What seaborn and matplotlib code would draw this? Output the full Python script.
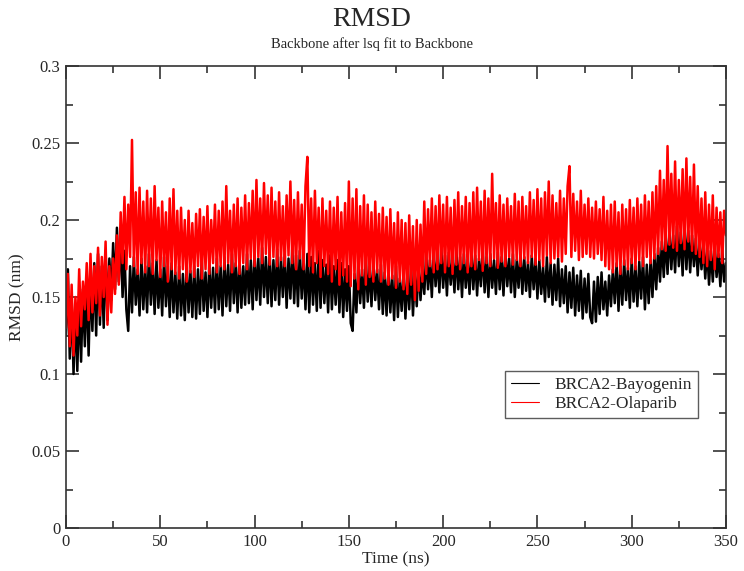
import numpy as np
import pandas as pd
import seaborn as sns
import matplotlib
matplotlib.use('Agg')
import matplotlib.pyplot as plt
from matplotlib.ticker import MultipleLocator

# RMSD traces, one value per ns, in 1e-3 nm
rmsd_bayogenin = [
    125, 168, 110, 150, 100, 142, 102, 148, 108, 155,
    118, 160, 112, 165, 128, 172, 125, 178, 132, 170,
    130, 180, 135, 175, 148, 185, 155, 195, 160, 190,
    150, 180, 142, 128, 170, 140, 176, 145, 168, 138,
    175, 142, 170, 140, 178, 145, 172, 139, 174, 143,
    168, 138, 176, 144, 170, 137, 172, 140, 166, 136,
    170, 138, 165, 135, 172, 140, 167, 137, 170, 136,
    168, 139, 174, 141, 166, 137, 172, 143, 169, 140,
    175, 142, 170, 138, 176, 144, 171, 141, 178, 146,
    172, 140, 176, 143, 170, 145, 178, 146, 174, 142,
    180, 148, 175, 145, 182, 150, 176, 146, 179, 144,
    174, 148, 181, 145, 176, 150, 178, 143, 175, 149,
    182, 146, 177, 144, 180, 149, 175, 142, 178, 140,
    176, 145, 172, 141, 180, 143, 174, 146, 171, 140,
    177, 142, 170, 145, 174, 140, 172, 137, 168, 141,
    170, 133, 128, 165, 140, 172, 146, 168, 143, 175,
    147, 170, 144, 173, 148, 168, 142, 171, 139, 166,
    138, 168, 140, 164, 135, 170, 137, 162, 141, 167,
    136, 165, 142, 170, 138, 166, 144, 172, 148, 168,
    152, 178, 155, 174, 150, 180, 157, 176, 153, 182,
    156, 177, 151, 179, 158, 175, 153, 181, 155, 176,
    150, 178, 156, 174, 152, 180, 155, 177, 151, 175,
    157, 181, 153, 176, 150, 178, 156, 174, 152, 179,
    155, 176, 151, 180, 157, 175, 153, 178, 150, 174,
    156, 179, 152, 176, 154, 173, 150, 177, 155, 175,
    149, 174, 152, 170, 147, 176, 150, 172, 145, 171,
    148, 175, 144, 168, 146, 170, 140, 166, 143, 169,
    138, 164, 141, 167, 136, 162, 140, 165, 137, 133,
    160, 134, 163, 139, 166, 142, 160, 138, 164, 144,
    168, 146, 172, 141, 170, 145, 174, 148, 169, 143,
    175, 147, 170, 144, 173, 149, 176, 142, 171, 146,
    174, 150, 178, 155, 182, 160, 186, 163, 190, 165,
    194, 168, 190, 166, 196, 170, 192, 164, 198, 168,
    193, 166, 190, 170, 188, 164, 186, 168, 184, 162,
    182, 158, 180, 160, 185, 163, 178, 157, 181, 160,
    172,
]

rmsd_olaparib = [
    130, 165, 118, 158, 112, 150, 125, 168, 131, 160,
    142, 172, 135, 178, 140, 170, 146, 182, 138, 176,
    150, 186, 132, 170, 140, 175, 152, 190, 158, 205,
    172, 215, 168, 210, 176, 252, 170, 218, 165, 221,
    172, 212, 166, 219, 170, 214, 165, 222, 174, 208,
    163, 212, 170, 205, 160, 214, 168, 220, 165, 206,
    162, 208, 168, 200, 160, 206, 166, 198, 163, 204,
    170, 207, 162, 202, 168, 209, 165, 200, 172, 210,
    166, 206, 170, 212, 168, 222, 172, 206, 166, 210,
    170, 214, 165, 208, 172, 216, 168, 211, 175, 219,
    170, 226, 176, 214, 172, 224, 178, 216, 171, 221,
    176, 212, 170, 218, 174, 209, 170, 216, 177, 225,
    172, 213, 168, 218, 175, 210, 168, 222, 241, 170,
    214, 166, 219, 172, 208, 163, 214, 170, 206, 165,
    212, 160, 208, 168, 215, 158, 205, 164, 211, 160,
    225, 157, 214, 162, 220, 155, 209, 164, 216, 158,
    210, 163, 205, 160, 212, 166, 204, 160, 208, 162,
    202, 158, 207, 162, 198, 156, 205, 160, 200, 155,
    198, 152, 203, 158, 196, 148, 200, 154, 197, 160,
    212, 165, 207, 170, 214, 166, 209, 168, 216, 172,
    210, 166, 215, 170, 208, 165, 213, 171, 218, 168,
    209, 172, 215, 166, 211, 170, 218, 168, 221, 174,
    212, 167, 219, 172, 214, 170, 230, 175, 211, 169,
    216, 173, 210, 170, 214, 176, 209, 171, 217, 174,
    212, 170, 215, 175, 209, 172, 218, 176, 213, 171,
    220, 174, 214, 170, 218, 177, 225, 172, 216, 175,
    211, 176, 219, 173, 214, 178, 222, 235, 176, 217,
    180, 212, 174, 219, 176, 210, 178, 214, 176, 208,
    175, 212, 178, 207, 174, 215, 170, 206, 168, 210,
    166, 212, 170, 205, 165, 210, 171, 207, 168, 213,
    172, 208, 168, 214, 174, 210, 170, 216, 176, 212,
    172, 218, 175, 222, 178, 232, 181, 226, 180, 248,
    184, 230, 182, 238, 180, 226, 185, 233, 181, 240,
    186, 228, 180, 236, 178, 222, 176, 214, 172, 218,
    170, 210, 174, 216, 168, 208, 176, 205, 172, 206,
    190,
]

series_names = ['BRCA2-Bayogenin', 'BRCA2-Olaparib']
series_colors = ['black', 'red']

frames = []
for name, vals in zip(series_names, [rmsd_bayogenin, rmsd_olaparib]):
    vals = np.array(vals) / 1000.0
    frames.append(pd.DataFrame({'Time (ns)': np.arange(len(vals), dtype=float),
                                'RMSD (nm)': vals,
                                'run': name}))
df = pd.concat(frames, ignore_index=True)

sns.set_style('ticks')
plt.rcParams['font.family'] = ['Liberation Serif', 'DejaVu Serif']

fig = plt.figure(figsize=(7.44, 5.71), dpi=100)
ax = fig.add_axes([0.0887, 0.0753, 0.8871, 0.8091])

sns.lineplot(data=df, x='Time (ns)', y='RMSD (nm)', hue='run',
             hue_order=series_names, palette=series_colors,
             estimator=None, sort=False, linewidth=1.8, ax=ax)

ax.set_xlim(0, 350)
ax.set_ylim(0, 0.3)
ax.xaxis.set_major_locator(MultipleLocator(50))
ax.xaxis.set_minor_locator(MultipleLocator(25))
ax.yaxis.set_major_locator(MultipleLocator(0.05))
ax.yaxis.set_minor_locator(MultipleLocator(0.025))
ax.set_yticks([0, 0.05, 0.1, 0.15, 0.2, 0.25, 0.3])
ax.set_yticklabels(['0', '0.05', '0.1', '0.15', '0.2', '0.25', '0.3'])

ax.tick_params(which='both', direction='in', top=True, right=True,
               width=1.2, labelsize=12, color='#333333')
ax.tick_params(which='major', length=9.5, pad=4)
ax.tick_params(which='minor', length=5)
for spine in ['top', 'bottom', 'left', 'right']:
    ax.spines[spine].set_linewidth(1.2)
    ax.spines[spine].set_color('#333333')

ax.set_xlabel('Time (ns)', fontsize=12.5, labelpad=1)
ax.set_ylabel('RMSD (nm)', fontsize=12.5, labelpad=4)

fig.text(0.5, 0.965, 'RMSD', ha='center', va='center', fontsize=20)
fig.text(0.5, 0.923, 'Backbone after lsq fit to Backbone', ha='center',
         va='center', fontsize=10.5)

leg = ax.legend(loc='upper left', bbox_to_anchor=(0.667, 0.366),
                bbox_transform=fig.transFigure, fontsize=12.5,
                frameon=True, fancybox=False, handlelength=1.6,
                borderpad=0.35, labelspacing=0.15, handletextpad=0.9)
leg.get_frame().set_edgecolor('#333333')
leg.get_frame().set_linewidth(1.0)
for line in leg.get_lines():
    line.set_linewidth(0.8)

fig.savefig('out.png', dpi=100)
